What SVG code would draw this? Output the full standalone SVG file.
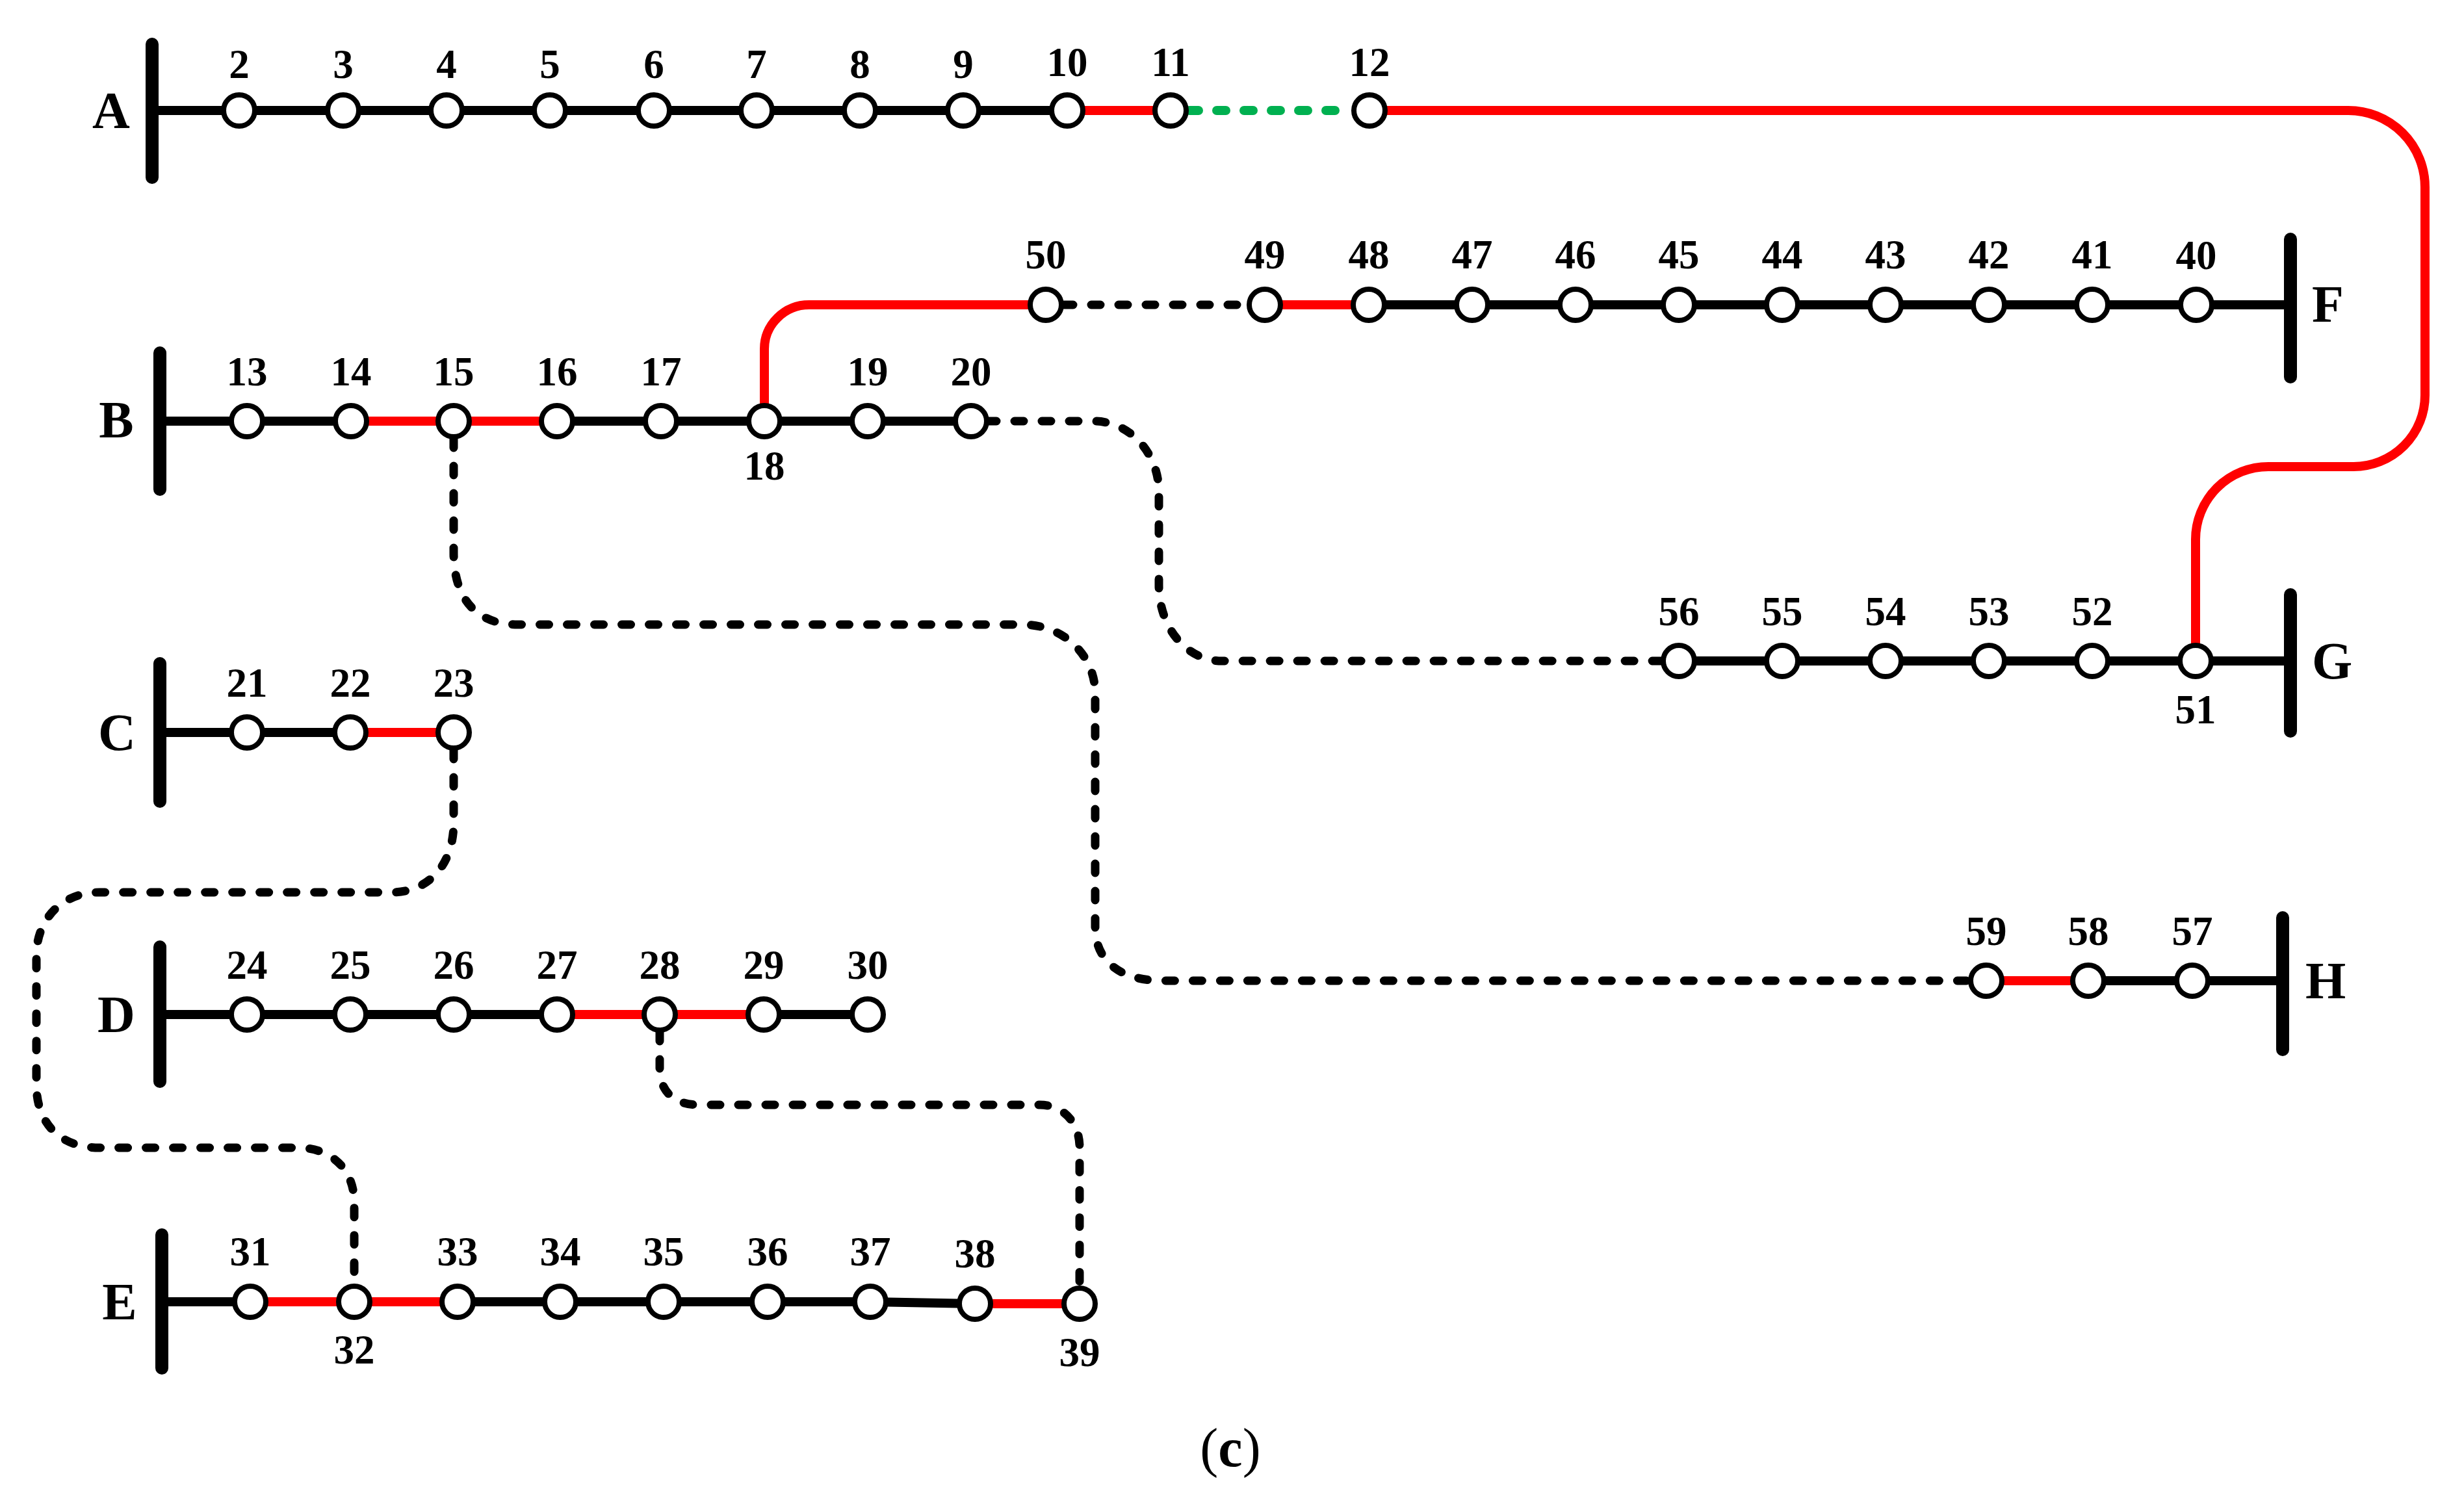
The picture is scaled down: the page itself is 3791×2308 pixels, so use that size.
<svg xmlns="http://www.w3.org/2000/svg" width="3791" height="2308" viewBox="0 0 3791 2308">
<style>
.bg{fill:#fff}
.bus{stroke:#000;stroke-width:20;stroke-linecap:round;fill:none}
.blk{stroke:#000;stroke-width:14;fill:none}
.red{stroke:#ff0000;stroke-width:14;fill:none;stroke-linecap:round}
.dsh{stroke:#000;stroke-width:13;fill:none;stroke-linecap:round;stroke-dasharray:14 28}
.grn{stroke:#00b050;stroke-width:14;fill:none;stroke-linecap:round;stroke-dasharray:14 28}
.nd circle{fill:#fff;stroke:#000;stroke-width:8}
text{font-family:"Liberation Serif","Times New Roman",serif;font-weight:bold;fill:#000}
.lbl{font-size:63px;text-anchor:middle}
.bl{font-size:80px}
.cap{font-size:84px;text-anchor:middle;font-weight:normal}
</style>
<rect class="bg" x="0" y="0" width="3791" height="2308"/>

<g id="connectors">
  <!-- Feeder A -->
  <path class="blk" d="M234 170H1642"/>
  <path class="red" d="M1642 170H1801"/>
  <path class="grn" d="M1830 170H2080"/>
  <path class="red" d="M2107 170H3613A118 118 0 0 1 3731 288V608A110 110 0 0 1 3621 718H3490A112 112 0 0 0 3378 830V1017"/>
  <!-- Feeder B -->
  <path class="blk" d="M246 648H540"/>
  <path class="red" d="M540 648H857"/>
  <path class="blk" d="M857 648H1494"/>
  <path class="red" d="M1176 648V537A69 68 0 0 1 1245 469H1609"/>
  <!-- Feeder F -->
  <path class="dsh" d="M1637 469H1920"/>
  <path class="red" d="M1946 469H2106"/>
  <path class="blk" d="M2106 469H3524"/>
  <!-- Feeder G -->
  <path class="blk" d="M2583 1017H3524"/>
  <!-- Feeder C -->
  <path class="blk" d="M246 1127H539"/>
  <path class="red" d="M539 1127H698"/>
  <!-- Feeder D -->
  <path class="blk" d="M246 1561H857"/>
  <path class="red" d="M857 1561H1175"/>
  <path class="blk" d="M1175 1561H1335"/>
  <!-- Feeder E -->
  <path class="blk" d="M249 2003H385"/>
  <path class="red" d="M385 2003H704"/>
  <path class="blk" d="M704 2003H1339L1500 2006"/>
  <path class="red" d="M1500 2006H1661"/>
  <!-- Feeder H -->
  <path class="red" d="M3056 1509H3213"/>
  <path class="blk" d="M3213 1509H3512"/>
  <!-- Tie lines (dashed) -->
  <path class="dsh" d="M1519 648H1683C1738 648 1783 697 1783 757V900C1783 965 1825 1017 1880 1017H2556"/>
  <path class="dsh" d="M698 675V850C698 920 732 961 796 961H1573C1638 961 1685 1010 1685 1067V1426C1685 1478 1722 1509 1790 1509H3030"/>
  <path class="dsh" d="M698 1154V1266C698 1330 660 1373 602 1373H153C92 1373 56 1418 56 1470V1669C56 1728 92 1766 153 1766H459C510 1766 545 1800 545 1850V1976"/>
  <path class="dsh" d="M1015 1588V1644C1015 1680 1038 1700 1075 1700H1600C1636 1700 1661 1728 1661 1765V1979"/>
</g>

<g id="busA"><line class="bus" x1="234" y1="68" x2="234" y2="273"/><text class="bl" x="171" y="197" text-anchor="middle">A</text></g>
<g id="busB"><line class="bus" x1="246" y1="543" x2="246" y2="753"/><text class="bl" x="179" y="673" text-anchor="middle">B</text></g>
<g id="busC"><line class="bus" x1="246" y1="1021" x2="246" y2="1233"/><text class="bl" x="180" y="1154" text-anchor="middle">C</text></g>
<g id="busD"><line class="bus" x1="246" y1="1457" x2="246" y2="1664"/><text class="bl" x="179" y="1588" text-anchor="middle">D</text></g>
<g id="busE"><line class="bus" x1="249" y1="1900" x2="249" y2="2105"/><text class="bl" x="184" y="2030" text-anchor="middle">E</text></g>
<g id="busF"><line class="bus" x1="3524" y1="368" x2="3524" y2="580"/><text class="bl" x="3557" y="495">F</text></g>
<g id="busG"><line class="bus" x1="3524" y1="915" x2="3524" y2="1125"/><text class="bl" x="3557" y="1044">G</text></g>
<g id="busH"><line class="bus" x1="3512" y1="1412" x2="3512" y2="1615"/><text class="bl" x="3547" y="1536">H</text></g>

<g class="nd">
<g id="n2"><circle cx="368" cy="170" r="24"/><text class="lbl" x="368" y="120">2</text></g>
<g id="n3"><circle cx="528" cy="170" r="24"/><text class="lbl" x="528" y="120">3</text></g>
<g id="n4"><circle cx="687" cy="170" r="24"/><text class="lbl" x="687" y="120">4</text></g>
<g id="n5"><circle cx="846" cy="170" r="24"/><text class="lbl" x="846" y="120">5</text></g>
<g id="n6"><circle cx="1006" cy="170" r="24"/><text class="lbl" x="1006" y="120">6</text></g>
<g id="n7"><circle cx="1164" cy="170" r="24"/><text class="lbl" x="1164" y="120">7</text></g>
<g id="n8"><circle cx="1323" cy="170" r="24"/><text class="lbl" x="1323" y="120">8</text></g>
<g id="n9"><circle cx="1482" cy="170" r="24"/><text class="lbl" x="1482" y="120">9</text></g>
<g id="n10"><circle cx="1642" cy="170" r="24"/><text class="lbl" x="1642" y="117">10</text></g>
<g id="n11"><circle cx="1801" cy="170" r="24"/><text class="lbl" x="1801" y="117">11</text></g>
<g id="n12"><circle cx="2107" cy="170" r="24"/><text class="lbl" x="2107" y="117">12</text></g>

<g id="n13"><circle cx="380" cy="648" r="24"/><text class="lbl" x="380" y="593">13</text></g>
<g id="n14"><circle cx="540" cy="648" r="24"/><text class="lbl" x="540" y="593">14</text></g>
<g id="n15"><circle cx="698" cy="648" r="24"/><text class="lbl" x="698" y="593">15</text></g>
<g id="n16"><circle cx="857" cy="648" r="24"/><text class="lbl" x="857" y="593">16</text></g>
<g id="n17"><circle cx="1017" cy="648" r="24"/><text class="lbl" x="1017" y="593">17</text></g>
<g id="n18"><circle cx="1176" cy="648" r="24"/><text class="lbl" x="1176" y="738">18</text></g>
<g id="n19"><circle cx="1335" cy="648" r="24"/><text class="lbl" x="1335" y="593">19</text></g>
<g id="n20"><circle cx="1494" cy="648" r="24"/><text class="lbl" x="1494" y="593">20</text></g>

<g id="n50"><circle cx="1609" cy="469" r="24"/><text class="lbl" x="1609" y="413">50</text></g>
<g id="n49"><circle cx="1946" cy="469" r="24"/><text class="lbl" x="1946" y="413">49</text></g>
<g id="n48"><circle cx="2106" cy="469" r="24"/><text class="lbl" x="2106" y="413">48</text></g>
<g id="n47"><circle cx="2265" cy="469" r="24"/><text class="lbl" x="2265" y="413">47</text></g>
<g id="n46"><circle cx="2424" cy="469" r="24"/><text class="lbl" x="2424" y="413">46</text></g>
<g id="n45"><circle cx="2583" cy="469" r="24"/><text class="lbl" x="2583" y="413">45</text></g>
<g id="n44"><circle cx="2742" cy="469" r="24"/><text class="lbl" x="2742" y="413">44</text></g>
<g id="n43"><circle cx="2901" cy="469" r="24"/><text class="lbl" x="2901" y="413">43</text></g>
<g id="n42"><circle cx="3060" cy="469" r="24"/><text class="lbl" x="3060" y="413">42</text></g>
<g id="n41"><circle cx="3219" cy="469" r="24"/><text class="lbl" x="3219" y="413">41</text></g>
<g id="n40"><circle cx="3379" cy="469" r="24"/><text class="lbl" x="3379" y="414">40</text></g>

<g id="n56"><circle cx="2583" cy="1017" r="24"/><text class="lbl" x="2583" y="962">56</text></g>
<g id="n55"><circle cx="2742" cy="1017" r="24"/><text class="lbl" x="2742" y="962">55</text></g>
<g id="n54"><circle cx="2901" cy="1017" r="24"/><text class="lbl" x="2901" y="962">54</text></g>
<g id="n53"><circle cx="3060" cy="1017" r="24"/><text class="lbl" x="3060" y="962">53</text></g>
<g id="n52"><circle cx="3219" cy="1017" r="24"/><text class="lbl" x="3219" y="962">52</text></g>
<g id="n51"><circle cx="3378" cy="1017" r="24"/><text class="lbl" x="3378" y="1113">51</text></g>

<g id="n21"><circle cx="380" cy="1127" r="24"/><text class="lbl" x="380" y="1072">21</text></g>
<g id="n22"><circle cx="539" cy="1127" r="24"/><text class="lbl" x="539" y="1072">22</text></g>
<g id="n23"><circle cx="698" cy="1127" r="24"/><text class="lbl" x="698" y="1072">23</text></g>

<g id="n59"><circle cx="3056" cy="1509" r="24"/><text class="lbl" x="3056" y="1454">59</text></g>
<g id="n58"><circle cx="3213" cy="1509" r="24"/><text class="lbl" x="3213" y="1454">58</text></g>
<g id="n57"><circle cx="3373" cy="1509" r="24"/><text class="lbl" x="3373" y="1454">57</text></g>

<g id="n24"><circle cx="380" cy="1561" r="24"/><text class="lbl" x="380" y="1506">24</text></g>
<g id="n25"><circle cx="539" cy="1561" r="24"/><text class="lbl" x="539" y="1506">25</text></g>
<g id="n26"><circle cx="698" cy="1561" r="24"/><text class="lbl" x="698" y="1506">26</text></g>
<g id="n27"><circle cx="857" cy="1561" r="24"/><text class="lbl" x="857" y="1506">27</text></g>
<g id="n28"><circle cx="1015" cy="1561" r="24"/><text class="lbl" x="1015" y="1506">28</text></g>
<g id="n29"><circle cx="1175" cy="1561" r="24"/><text class="lbl" x="1175" y="1506">29</text></g>
<g id="n30"><circle cx="1335" cy="1561" r="24"/><text class="lbl" x="1335" y="1506">30</text></g>

<g id="n31"><circle cx="385" cy="2003" r="24"/><text class="lbl" x="385" y="1947">31</text></g>
<g id="n32"><circle cx="545" cy="2003" r="24"/><text class="lbl" x="545" y="2098">32</text></g>
<g id="n33"><circle cx="704" cy="2003" r="24"/><text class="lbl" x="704" y="1947">33</text></g>
<g id="n34"><circle cx="862" cy="2003" r="24"/><text class="lbl" x="862" y="1947">34</text></g>
<g id="n35"><circle cx="1021" cy="2003" r="24"/><text class="lbl" x="1021" y="1947">35</text></g>
<g id="n36"><circle cx="1181" cy="2003" r="24"/><text class="lbl" x="1181" y="1947">36</text></g>
<g id="n37"><circle cx="1339" cy="2003" r="24"/><text class="lbl" x="1339" y="1947">37</text></g>
<g id="n38"><circle cx="1500" cy="2006" r="24"/><text class="lbl" x="1500" y="1950">38</text></g>
<g id="n39"><circle cx="1661" cy="2006" r="24"/><text class="lbl" x="1661" y="2102">39</text></g>
</g>

<text class="cap" x="1893" y="2256">(<tspan font-weight="bold">c</tspan>)</text>
</svg>
